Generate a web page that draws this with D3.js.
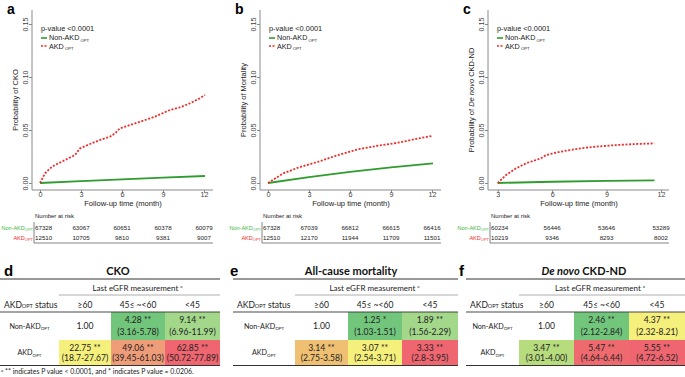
<!DOCTYPE html>
<html><head><meta charset="utf-8">
<script src="https://cdn.jsdelivr.net/npm/d3@7"></script>
<style>body{margin:0;background:#fff}svg{display:block}</style>
</head><body>
<svg id="c" width="685" height="377"></svg>
<script>
// ---------------- DATA ----------------
const yTicks = [0, 0.05, 0.10, 0.15];
const xTicksAB = [0, 3, 6, 9, 12];
const xTicksC = [3, 6, 9, 12];

const ckoRedT = [0, 0.37, 0.73, 1.1, 1.83, 2.56, 2.93, 3.66, 4.39, 5.12, 5.49, 5.85, 6.59, 7.32, 8.41, 9.51, 10.24, 10.98, 11.7, 12.07];
const ckoRedV = [0, 0.0091, 0.0138, 0.017, 0.0217, 0.0264, 0.0327, 0.0368, 0.0406, 0.0437, 0.0469, 0.0516, 0.0547, 0.0578, 0.0626, 0.0689, 0.0714, 0.0752, 0.0799, 0.083];
const ckoGreenT = [0, 3, 6, 9, 12.07];
const ckoGreenV = [0, 0.0018, 0.0034, 0.005, 0.0066];

const morRedT = [0, 1.1, 2.2, 3.66, 5.12, 6.59, 8.05, 9.5, 11.0, 12.07];
const morRedV = [0, 0.009, 0.0145, 0.020, 0.0264, 0.0318, 0.0352, 0.038, 0.042, 0.0446];
const morGreenT = [0, 3, 6, 9, 12.07];
const morGreenV = [0, 0.0055, 0.0105, 0.0148, 0.0186];

const ckdRedT = [3.0, 3.46, 4.01, 4.56, 5.11, 5.39, 5.67, 6.22, 6.77, 7.32, 7.87, 8.42, 9.53, 10.63, 11.64];
const ckdRedV = [0, 0.0075, 0.0138, 0.0186, 0.0217, 0.0233, 0.0264, 0.0286, 0.0305, 0.032, 0.0333, 0.0343, 0.0358, 0.0368, 0.0374];
const ckdGreenT = [3.0, 6, 9, 11.64];
const ckdGreenV = [0, 0.0012, 0.002, 0.0025];

const riskNonA = ["67328", "63067", "60651", "60378", "60079"];
const riskAkdA = ["12510", "10705", "9810", "9381", "9007"];
const riskNonB = ["67328", "67039", "66812", "66615", "66416"];
const riskAkdB = ["12510", "12170", "11944", "11709", "11501"];
const riskNonC = ["60234", "56446", "53646", "53289"];
const riskAkdC = ["10219", "9346", "8293", "8002"];

const colHeads = ["\u226560", "45\u2264 ~<60", "<45"];
const tblD_non = [["1.00", ""], ["4.28 **", "(3.16-5.78)"], ["9.14 **", "(6.96-11.99)"]];
const tblD_akd = [["22.75 **", "(18.7-27.67)"], ["49.06 **", "(39.45-61.03)"], ["62.85 **", "(50.72-77.89)"]];
const tblE_non = [["1.00", ""], ["1.25 *", "(1.03-1.51)"], ["1.89 **", "(1.56-2.29)"]];
const tblE_akd = [["3.14 **", "(2.75-3.58)"], ["3.07 **", "(2.54-3.71)"], ["3.33 **", "(2.8-3.95)"]];
const tblF_non = [["1.00", ""], ["2.46 **", "(2.12-2.84)"], ["4.37 **", "(2.32-8.21)"]];
const tblF_akd = [["3.47 **", "(3.01-4.00)"], ["5.47 **", "(4.64-6.44)"], ["5.55 **", "(4.72-6.52)"]];
const colD_non = [null, "#72c67c", "#a3d88b"];
const colD_akd = ["#f5ef7c", "#ef9c78", "#ef6670"];
const colE_non = [null, "#72c67c", "#a3d88b"];
const colE_akd = ["#efc072", "#f5ef7c", "#ef6670"];
const colF_non = [null, "#72c67c", "#f5ef7c"];
const colF_akd = ["#b6dc7e", "#ef6a6e", "#ef6670"];

// ---------------- DRAW ----------------
const svg = d3.select("#c");
const GREEN = "#2e9c2e", RED = "#f22a2a", AXIS = "#8a8a8a";
const FONT = "'Liberation Sans', Arial, sans-serif";
const TFONT = "Lato, 'Open Sans', sans-serif";

function subText(sel, main, sub, size, subSize) {
  sel.append("tspan").text(main);
  sel.append("tspan").attr("font-size", subSize).attr("dy", size * 0.22).text(sub);
}

function km(cfg) {
  const g = svg.append("g").attr("transform", `translate(${cfg.ox},0)`);
  const x = d3.scaleLinear().domain(cfg.xDomain).range([cfg.x0, cfg.x1]);
  const y = d3.scaleLinear().domain([0, 0.15]).range([183, 24]);
  g.append("text").attr("x", 7).attr("y", 14).attr("font-family", FONT).attr("font-weight", "bold")
    .attr("font-size", 14).text(cfg.letter);
  const xa = g.append("g").attr("transform", "translate(0,190)")
    .call(d3.axisBottom(x).tickValues(cfg.xTicks).tickSize(3).tickSizeOuter(0));
  xa.select(".domain").attr("d", `M32,0H213`);
  const ya = g.append("g").attr("transform", "translate(32,0)")
    .call(d3.axisLeft(y).tickValues(yTicks).tickFormat(d3.format(".2f")).tickSize(3).tickSizeOuter(0));
  ya.select(".domain").attr("d", `M0,10V190`);
  [xa, ya].forEach(a => {
    a.selectAll("path,line").attr("stroke", AXIS);
    a.selectAll("text").attr("fill", "#444").attr("font-size", 7.2).attr("font-family", FONT);
  });
  xa.selectAll("text").attr("y", 7.4).attr("dy", 0);
  ya.selectAll("text").attr("x", 0).attr("y", 0).attr("dx", 0).attr("dy", 0)
    .attr("transform", "translate(-4,0) rotate(-90)").attr("text-anchor", "middle");
  const yt = g.append("text").attr("transform", "translate(18,100) rotate(-90)").attr("text-anchor", "middle")
    .attr("font-family", FONT).attr("font-size", 7.5).attr("fill", "#222");
  cfg.yTitle.forEach(p => yt.append("tspan").attr("font-style", p.i ? "italic" : null).text(p.t));
  g.append("text").attr("x", 123).attr("y", 206).attr("text-anchor", "middle").attr("font-family", FONT)
    .attr("font-size", 7.6).attr("fill", "#222").text("Follow-up time (month)");
  const line = d3.line().x(d => x(d[0])).y(d => y(d[1]));
  g.append("path").attr("d", line(d3.zip(cfg.gT, cfg.gV))).attr("fill", "none").attr("stroke", GREEN).attr("stroke-width", 1.8);
  g.append("path").attr("d", line(d3.zip(cfg.rT, cfg.rV))).attr("fill", "none").attr("stroke", RED)
    .attr("stroke-width", 1.8).attr("stroke-dasharray", "2,1.6");
  // legend
  g.append("text").attr("x", 41).attr("y", 31).attr("font-family", FONT).attr("font-size", 7.4).attr("fill", "#222").text("p-value <0.0001");
  g.append("line").attr("x1", 41).attr("x2", 47).attr("y1", 38).attr("y2", 38).attr("stroke", GREEN).attr("stroke-width", 1.6);
  g.append("line").attr("x1", 41).attr("x2", 47).attr("y1", 46).attr("y2", 46).attr("stroke", RED).attr("stroke-width", 1.6).attr("stroke-dasharray", "2,1.5");
  const l1 = g.append("text").attr("x", 49).attr("y", 40.2).attr("font-family", FONT).attr("font-size", 7.2).attr("fill", "#222");
  subText(l1, "Non-AKD", " OPT", 7.2, 4.2);
  const l2 = g.append("text").attr("x", 49).attr("y", 48.6).attr("font-family", FONT).attr("font-size", 7.2).attr("fill", "#222");
  subText(l2, "AKD", " OPT", 7.2, 4.2);
  // risk table
  g.append("text").attr("x", 35).attr("y", 218).attr("font-family", FONT).attr("font-size", 6).attr("fill", "#222").text("Number at risk");
  g.append("path").attr("d", "M34,222V243H213").attr("fill", "none").attr("stroke", "#666").attr("stroke-width", 0.8);
  const r1 = g.append("text").attr("x", 33).attr("y", 230).attr("text-anchor", "end").attr("font-family", FONT).attr("font-size", 5.5).attr("fill", "#3cb83c");
  subText(r1, "Non-AKD", "OPT", 5.5, 4);
  const r2 = g.append("text").attr("x", 33).attr("y", 239.5).attr("text-anchor", "end").attr("font-family", FONT).attr("font-size", 5.5).attr("fill", "#ee2a2a");
  subText(r2, "AKD", "OPT", 5.5, 4);
  [[cfg.riskNon, 230], [cfg.riskAkd, 239.5]].forEach(([arr, yy]) => {
    g.selectAll(null).data(arr).join("text")
      .attr("x", (d, i) => i === 0 ? 35 : x(cfg.xTicks[i]))
      .attr("y", yy).attr("text-anchor", (d, i) => i === 0 ? "start" : "middle")
      .attr("font-family", FONT).attr("font-size", 6.2).attr("fill", "#222").text(d => d);
  });
}

km({ox: 0, letter: "a", xDomain: [0, 12], x0: 40, x1: 204, xTicks: xTicksAB,
    yTitle: [{t: "Probability of CKO"}], gT: ckoGreenT, gV: ckoGreenV, rT: ckoRedT, rV: ckoRedV,
    riskNon: riskNonA, riskAkd: riskAkdA});
km({ox: 228, letter: "b", xDomain: [0, 12], x0: 40, x1: 204, xTicks: xTicksAB,
    yTitle: [{t: "Probability of Mortality"}], gT: morGreenT, gV: morGreenV, rT: morRedT, rV: morRedV,
    riskNon: riskNonB, riskAkd: riskAkdB});
km({ox: 456, letter: "c", xDomain: [3, 12], x0: 41.7, x1: 205, xTicks: xTicksC,
    yTitle: [{t: "Probability of "}, {t: "De novo", i: true}, {t: " CKD-ND"}], gT: ckdGreenT, gV: ckdGreenV, rT: ckdRedT, rV: ckdRedV,
    riskNon: riskNonC, riskAkd: riskAkdC});

// ---------------- TABLES ----------------
function table(cfg) {
  const e = cfg.edges;
  const g = svg.append("g");
  g.append("text").attr("x", cfg.letterX).attr("y", 276).attr("font-family", FONT).attr("font-weight", "bold").attr("font-size", 15).text(cfg.letter);
  const tt = g.append("text").attr("x", cfg.titleX).attr("y", 275).attr("text-anchor", "middle").attr("font-family", TFONT)
    .attr("font-weight", "bold").attr("font-size", 11).attr("fill", "#111");
  cfg.title.forEach(p => tt.append("tspan").attr("font-style", p.i ? "italic" : null).text(p.t));
  const rows = [{y0: 312, y1: 340, vals: cfg.non, cols: cfg.nonCol, label: "Non-AKD"}, {y0: 340, y1: 365, vals: cfg.akd, cols: cfg.akdCol, label: "AKD"}];
  rows.forEach(r => {
    r.vals.forEach((v, i) => {
      if (r.cols[i]) g.append("rect").attr("x", e[i + 1]).attr("y", r.y0).attr("width", e[i + 2] - e[i + 1]).attr("height", r.y1 - r.y0).attr("fill", r.cols[i]);
      const cx = (e[i + 1] + e[i + 2]) / 2;
      if (v[1]) {
        g.append("text").attr("x", cx).attr("y", r.y0 + (r.y1 - r.y0) * 0.3).attr("dy", "0.35em").attr("text-anchor", "middle").attr("font-family", TFONT).attr("font-size", 8.6).attr("fill", "#222").text(v[0]);
        g.append("text").attr("x", cx).attr("y", r.y0 + (r.y1 - r.y0) * 0.73).attr("dy", "0.35em").attr("text-anchor", "middle").attr("font-family", TFONT).attr("font-size", 8.6).attr("fill", "#222").text(v[1]);
      } else {
        g.append("text").attr("x", cx).attr("y", (r.y0 + r.y1) / 2).attr("dy", "0.35em").attr("text-anchor", "middle").attr("font-family", TFONT).attr("font-size", 8.6).attr("fill", "#222").text(v[0]);
      }
    });
    const lt = g.append("text").attr("x", (e[0] + e[1]) / 2).attr("y", (r.y0 + r.y1) / 2).attr("dy", "0.35em").attr("text-anchor", "middle").attr("font-family", TFONT).attr("font-size", 7.2).attr("fill", "#222");
    subText(lt, r.label, "OPT", 7.2, 4.5);
  });
  g.append("line").attr("x1", e[0]).attr("x2", e[4]).attr("y1", 279).attr("y2", 279).attr("stroke", "#333").attr("stroke-width", 1);
  g.append("line").attr("x1", e[1]).attr("x2", e[4]).attr("y1", 295).attr("y2", 295).attr("stroke", "#999").attr("stroke-width", 0.8);
  g.append("line").attr("x1", e[0]).attr("x2", e[4]).attr("y1", 312).attr("y2", 312).attr("stroke", "#333").attr("stroke-width", 0.9);
  g.append("line").attr("x1", e[0]).attr("x2", e[4]).attr("y1", 365.5).attr("y2", 365.5).attr("stroke", "#333").attr("stroke-width", 1.2);
  const lh = g.append("text").attr("x", (e[1] + e[4]) / 2 - 2).attr("y", 288).attr("dy", "0.35em").attr("text-anchor", "middle").attr("font-family", TFONT).attr("font-size", 8).attr("fill", "#222");
  lh.append("tspan").text("Last eGFR measurement ");
  lh.append("tspan").attr("font-size", 4.5).attr("dy", -3).text("a");
  const st = g.append("text").attr("x", e[0] + 4).attr("y", 305).attr("dy", "0.35em").attr("font-family", TFONT).attr("font-size", 8.5).attr("fill", "#222");
  st.append("tspan").text("AKD");
  st.append("tspan").attr("font-size", 5.5).text("OPT");
  st.append("tspan").text(" status");
  colHeads.forEach((h, i) => {
    g.append("text").attr("x", (e[i + 1] + e[i + 2]) / 2).attr("y", 305).attr("dy", "0.35em").attr("text-anchor", "middle").attr("font-family", TFONT).attr("font-size", 8.5).attr("fill", "#222").text(h);
  });
}

table({letter: "d", letterX: 4, title: [{t: "CKO"}], titleX: 118, edges: [0, 59, 111, 165, 220],
       non: tblD_non, akd: tblD_akd, nonCol: colD_non, akdCol: colD_akd});
table({letter: "e", letterX: 230, title: [{t: "All-cause mortality"}], titleX: 351, edges: [233, 295, 348, 402, 458],
       non: tblE_non, akd: tblE_akd, nonCol: colE_non, akdCol: colE_akd});
table({letter: "f", letterX: 459, title: [{t: "De novo", i: true}, {t: " CKD-ND"}], titleX: 584, edges: [466, 519, 574, 629, 685],
       non: tblF_non, akd: tblF_akd, nonCol: colF_non, akdCol: colF_akd});

const fn = svg.append("text").attr("x", 1).attr("y", 374).attr("font-family", TFONT).attr("font-size", 6.9).attr("fill", "#222");
fn.append("tspan").attr("font-size", 4.5).attr("dy", -2).text("a");
fn.append("tspan").attr("dy", 2).text(" ** indicates P value < 0.0001, and * indicates P value = 0.0206.");
</script>
</body></html>
